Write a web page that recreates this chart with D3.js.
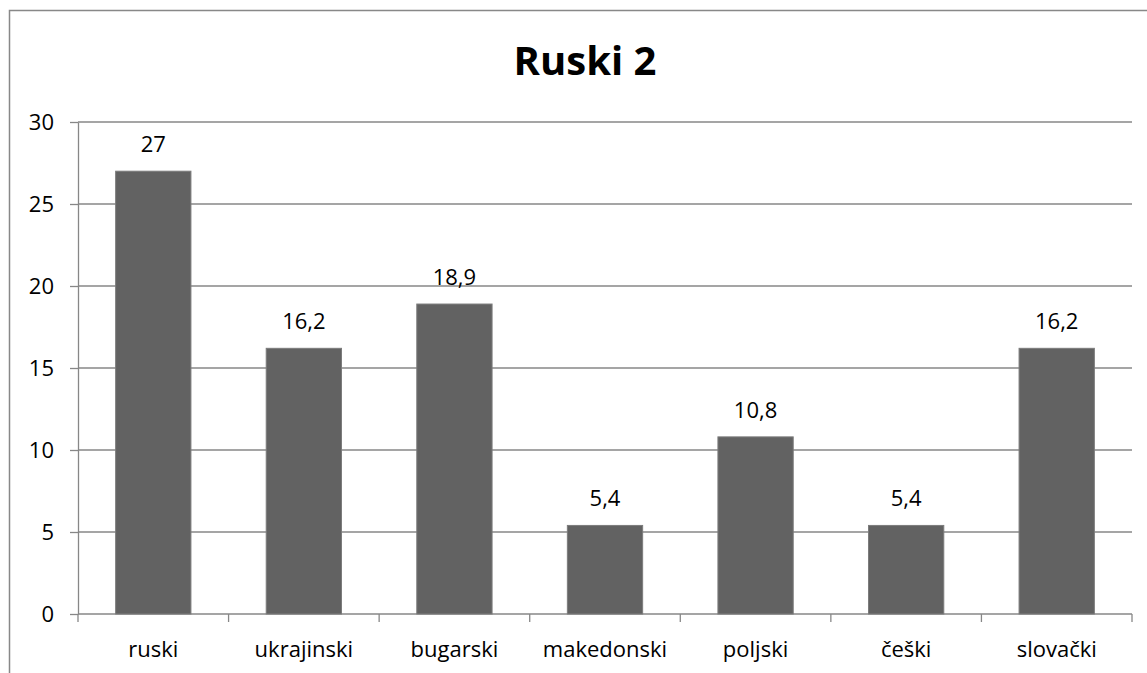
<!DOCTYPE html>
<html>
<head>
<meta charset="utf-8">
<script src="https://cdn.jsdelivr.net/npm/d3@7"></script>
<style>
  body { margin: 0; background: #fff; }
  svg text { font-family: "Open Sans", sans-serif; fill: #000; }
</style>
</head>
<body>
<div class="chart"></div>
<script>
const categories = ["ruski", "ukrajinski", "bugarski", "makedonski", "poljski", "češki", "slovački"];
const values = [27, 16.2, 18.9, 5.4, 10.8, 5.4, 16.2];
const yTicks = [0, 5, 10, 15, 20, 25, 30];
const title = "Ruski 2";

const W = 1147, H = 673;
const plot = { left: 78, right: 1132, top: 122, bottom: 614 };
const gridColor = "#878787";

const svg = d3.select(".chart")
    .append("svg")
    .attr("width", W)
    .attr("height", H);

// chart frame (bottom/right fall outside the picture)
svg.append("rect")
    .attr("x", 9.5)
    .attr("y", 10.5)
    .attr("width", W + 20)
    .attr("height", H + 20)
    .attr("fill", "none")
    .attr("stroke", "#888")
    .attr("stroke-width", 1.5);

const x = d3.scaleBand()
    .domain(categories)
    .range([plot.left, plot.right])
    .paddingInner(0.5)
    .paddingOuter(0.25);

const y = d3.scaleLinear()
    .domain([0, 30])
    .range([plot.bottom, plot.top]);

// gridlines
svg.append("g")
    .selectAll("line")
    .data(yTicks.filter(d => d > 0))
    .enter()
    .append("line")
    .attr("x1", plot.left)
    .attr("x2", plot.right)
    .attr("y1", d => y(d))
    .attr("y2", d => y(d))
    .attr("stroke", gridColor)
    .attr("stroke-width", 1.3);

// y axis
const yAxis = svg.append("g")
    .attr("transform", "translate(" + plot.left + ",0)")
    .call(d3.axisLeft(y).tickValues(yTicks).tickSize(8).tickPadding(16).tickSizeOuter(0));
yAxis.select(".domain").attr("stroke", gridColor).attr("stroke-width", 1.3);
yAxis.selectAll(".tick line").attr("stroke", gridColor).attr("stroke-width", 1.3);
yAxis.selectAll(".tick text")
    .style("font-size", "22px")
    .attr("dy", "0.36em");

// x axis: ticks sit on the category boundaries
const step = x.step();
const boundaries = d3.range(categories.length + 1).map(i => plot.left + i * step);
const xAxis = svg.append("g");
xAxis.append("line")
    .attr("x1", plot.left)
    .attr("x2", plot.right)
    .attr("y1", plot.bottom)
    .attr("y2", plot.bottom)
    .attr("stroke", gridColor)
    .attr("stroke-width", 1.3);
xAxis.selectAll(".xtick")
    .data(boundaries)
    .enter()
    .append("line")
    .attr("x1", d => d)
    .attr("x2", d => d)
    .attr("y1", plot.bottom)
    .attr("y2", plot.bottom + 8)
    .attr("stroke", gridColor)
    .attr("stroke-width", 1.3);
xAxis.selectAll(".xlabel")
    .data(categories)
    .enter()
    .append("text")
    .attr("x", d => x(d) + x.bandwidth() / 2)
    .attr("y", plot.bottom + 43)
    .attr("text-anchor", "middle")
    .style("font-size", "22px")
    .text(d => d);

// bars
svg.selectAll(".bar")
    .data(values)
    .enter()
    .append("rect")
    .attr("class", "bar")
    .attr("x", (d, i) => x(categories[i]))
    .attr("y", d => y(d))
    .attr("width", x.bandwidth())
    .attr("height", d => y(0) - y(d))
    .attr("fill", "#626262")
    .attr("stroke", "#7c7c7c")
    .attr("stroke-width", 1);

// value labels
svg.selectAll(".value")
    .data(values)
    .enter()
    .append("text")
    .attr("x", (d, i) => x(categories[i]) + x.bandwidth() / 2)
    .attr("y", d => y(d) - 19)
    .attr("text-anchor", "middle")
    .style("font-size", "22px")
    .text(d => String(d).replace(".", ","));

// title
svg.append("text")
    .attr("x", 585)
    .attr("y", 75)
    .attr("text-anchor", "middle")
    .style("font-size", "40px")
    .style("font-weight", "bold")
    .text(title);
</script>
</body>
</html>
